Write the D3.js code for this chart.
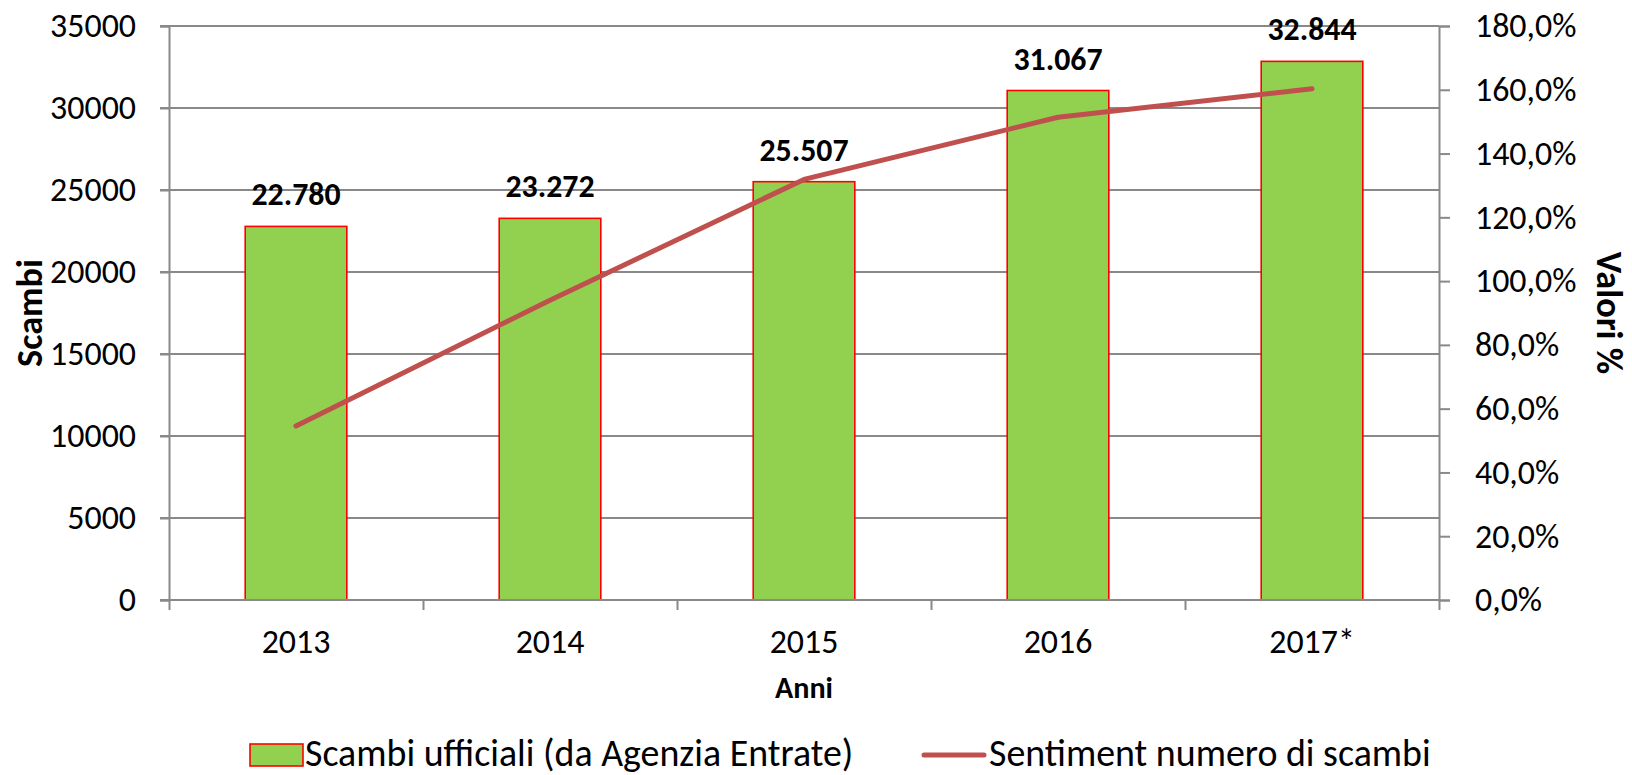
<!DOCTYPE html>
<html>
<head>
<meta charset="utf-8">
<script src="https://cdn.jsdelivr.net/npm/d3@7"></script>
<style>
  body { margin: 0; background: #fff; }
  svg text { font-family: Carlito, "Open Sans", sans-serif; fill: #000; }
</style>
</head>
<body>
<script>
// Chart data
var years = ["2013", "2014", "2015", "2016", "2017*"];
var scambi = [22780, 23272, 25507, 31067, 32844];
var sentiment = [54.6, 94.0, 131.9, 151.4, 160.3];
var leftTicks = [0, 5000, 10000, 15000, 20000, 25000, 30000, 35000];
var rightTicks = [0, 20, 40, 60, 80, 100, 120, 140, 160, 180];
var legendLabels = ["Scambi ufficiali (da Agenzia Entrate)", "Sentiment numero di scambi"];

// Size
var width = 1632;
var height = 775;
var plotLeft = 169, plotRight = 1439, plotTop = 26, plotBottom = 600;

var it = d3.formatLocale({decimal: ",", thousands: ".", grouping: [3], currency: ["", "€"]});
var fmtLabel = it.format(",");
var fmtPct = function(v) { return it.format(".1f")(v) + "%"; };

var svg = d3.select('body').append('svg')
  .attr('width', width)
  .attr('height', height);

// pick a font size so a sample string gets the width it has in the original picture
function fitSize(sample, weight, target) {
  var t = svg.append('text').style('font-size', '100px').style('font-weight', weight).text(sample);
  var w = t.node().getComputedTextLength();
  t.remove();
  return (100 * target / w).toFixed(1) + 'px';
}
var tickSize = fitSize("35000", "normal", 86);
var valueSize = fitSize("25.507", "bold", 89);
var legendSize = fitSize(legendLabels[0], "normal", 549);
var titleSize = fitSize("Scambi", "bold", 108);
var anniSize = fitSize("Anni", "bold", 58);

// Scales
var x = d3.scaleBand()
  .domain(years)
  .range([plotLeft, plotRight])
  .paddingInner(0.6)
  .paddingOuter(0.3);

var xEdges = d3.scaleLinear().domain([0, years.length]).range([plotLeft, plotRight]);

var yLeft = d3.scaleLinear().domain([0, 35000]).range([plotBottom, plotTop]);
var yRight = d3.scaleLinear().domain([0, 180]).range([plotBottom, plotTop]);

var gridColor = "#898989";

// Gridlines
svg.append('g')
  .selectAll('line')
  .data(leftTicks.filter(function(d) { return d > 0; }))
  .enter().append('line')
  .attr('x1', plotLeft - 9)
  .attr('x2', plotRight)
  .attr('y1', function(d) { return yLeft(d); })
  .attr('y2', function(d) { return yLeft(d); })
  .style('stroke', gridColor)
  .style('stroke-width', 2);

// Bars
svg.append('g')
  .selectAll('rect')
  .data(years)
  .enter().append('rect')
  .attr('x', function(d) { return x(d); })
  .attr('y', function(d, i) { return yLeft(scambi[i]); })
  .attr('width', x.bandwidth())
  .attr('height', function(d, i) { return plotBottom - yLeft(scambi[i]); })
  .style('fill', '#92D050')
  .style('stroke', '#FF0000')
  .style('stroke-width', 1.6);

// Left axis
var leftAxis = svg.append('g')
  .attr('transform', 'translate(' + plotLeft + ',0)')
  .call(d3.axisLeft(yLeft).tickValues(leftTicks).tickSize(9).tickPadding(24).tickFormat(d3.format("d")));

// Right axis
var rightAxis = svg.append('g')
  .attr('transform', 'translate(' + plotRight + ',0)')
  .call(d3.axisRight(yRight).tickValues(rightTicks).tickSize(11).tickPadding(25).tickFormat(fmtPct));

// Bottom axis: ticks at category boundaries
var bottomAxis = svg.append('g')
  .attr('transform', 'translate(0,' + plotBottom + ')')
  .call(d3.axisBottom(xEdges).tickValues(d3.range(years.length + 1)).tickSize(10).tickFormat(""));

[leftAxis, rightAxis, bottomAxis].forEach(function(g) {
  g.select('.domain').style('stroke', gridColor).style('stroke-width', 2);
  g.selectAll('.tick line').style('stroke', gridColor).style('stroke-width', 2);
  g.selectAll('.tick text').style('font-size', tickSize).style('font-family', 'Carlito, "Open Sans", sans-serif');
});
bottomAxis.select('.domain').attr('d', 'M' + (plotLeft - 9) + ',0H' + plotRight);

// Category labels
svg.append('g')
  .selectAll('text')
  .data(years)
  .enter().append('text')
  .attr('x', function(d) { return x(d) + x.bandwidth() / 2; })
  .attr('y', 653)
  .attr('text-anchor', 'middle')
  .style('font-size', tickSize)
  .text(function(d) { return d; });

// Value labels
svg.append('g')
  .selectAll('text')
  .data(years)
  .enter().append('text')
  .attr('x', function(d) { return x(d) + x.bandwidth() / 2; })
  .attr('y', function(d, i) { return yLeft(scambi[i]) - 21; })
  .attr('text-anchor', 'middle')
  .style('font-size', valueSize)
  .style('font-weight', 'bold')
  .text(function(d, i) { return fmtLabel(scambi[i]); });

// Sentiment line
var line = d3.line()
  .x(function(d, i) { return x(years[i]) + x.bandwidth() / 2; })
  .y(function(d) { return yRight(d); });

svg.append('path')
  .datum(sentiment)
  .attr('d', line)
  .style('fill', 'none')
  .style('stroke', '#C0504D')
  .style('stroke-width', 5)
  .style('stroke-linecap', 'round')
  .style('stroke-linejoin', 'round');

// Axis titles
svg.append('text')
  .attr('transform', 'translate(42,' + ((plotTop + plotBottom) / 2) + ') rotate(-90)')
  .attr('text-anchor', 'middle')
  .style('font-size', titleSize)
  .style('font-weight', 'bold')
  .text('Scambi');

svg.append('text')
  .attr('transform', 'translate(1597,' + ((plotTop + plotBottom) / 2) + ') rotate(90)')
  .attr('text-anchor', 'middle')
  .style('font-size', titleSize)
  .style('font-weight', 'bold')
  .text('Valori %');

svg.append('text')
  .attr('x', (plotLeft + plotRight) / 2)
  .attr('y', 698)
  .attr('text-anchor', 'middle')
  .style('font-size', anniSize)
  .style('font-weight', 'bold')
  .text('Anni');

// Legend
var legendY = 766;
var legend = svg.append('g');
legend.append('rect')
  .attr('x', 250).attr('y', legendY - 22)
  .attr('width', 53).attr('height', 22)
  .style('fill', '#92D050')
  .style('stroke', '#FF0000')
  .style('stroke-width', 1.6);
legend.append('text')
  .attr('x', 305).attr('y', legendY)
  .style('font-size', legendSize)
  .text(legendLabels[0]);

legend.append('line')
  .attr('x1', 924).attr('x2', 984)
  .attr('y1', legendY - 11).attr('y2', legendY - 11)
  .style('stroke', '#C0504D')
  .style('stroke-width', 5)
  .style('stroke-linecap', 'round');
legend.append('text')
  .attr('x', 989).attr('y', legendY)
  .style('font-size', legendSize)
  .text(legendLabels[1]);
</script>
</body>
</html>
